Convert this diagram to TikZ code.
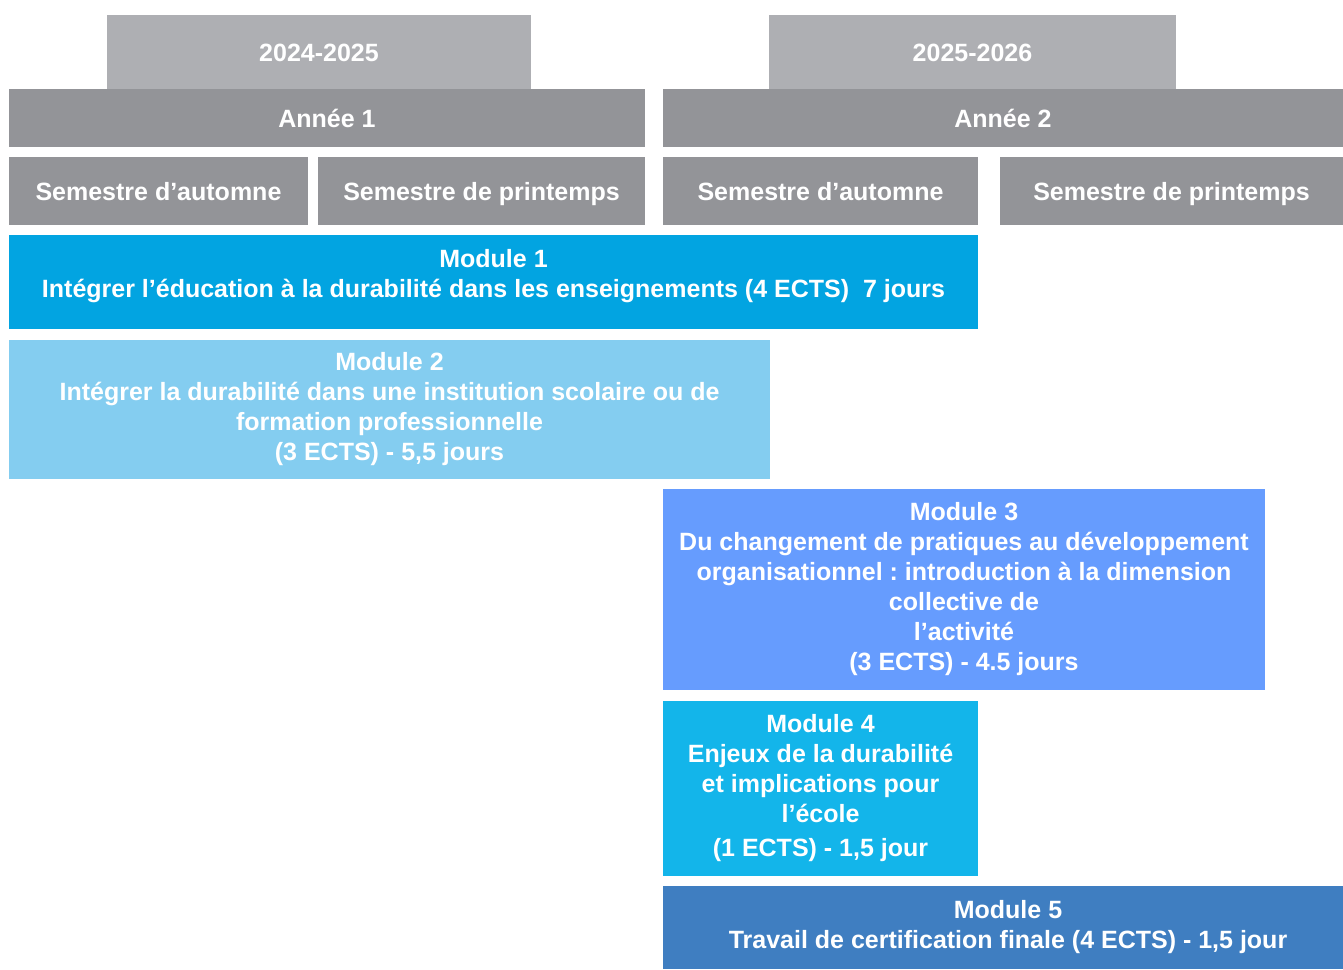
\documentclass[tikz,border=0pt]{standalone}
\usepackage{fontspec}
\setmainfont{Liberation Sans}
\frenchspacing
\definecolor{yeargray}{HTML}{AEAFB3}
\definecolor{headgray}{HTML}{939498}
\definecolor{modone}{HTML}{02A4E1}
\definecolor{modtwo}{HTML}{84CDF0}
\definecolor{modthree}{HTML}{669CFE}
\definecolor{modfour}{HTML}{13B5EA}
\definecolor{modfive}{HTML}{3F7EC1}
\begin{document}
\begin{tikzpicture}[x=1pt, y=-1pt,
		box/.style = {rectangle, inner sep=0pt, outer sep=0pt, text=white, align=center, font=\fontsize{25}{30}\selectfont\bfseries},
		line/.style = {box, text height=20pt, text depth=2pt},
		year/.style = {line, fill=yeargray, minimum height=74pt},
		head/.style = {line, fill=headgray, minimum height=58pt},
		sem/.style = {line, fill=headgray, minimum height=68pt}]
		\useasboundingbox (0,0) rectangle (1343,969);
		\node[year, minimum width=424pt] (y1) at (319,52) {2024-2025};
		\node[year, minimum width=407pt] (y2) at (972.5,52) {2025-2026};
		\node[head, minimum width=636pt] (a1) at (327,118) {Année 1};
		\node[head, minimum width=680pt] (a2) at (1003,118) {Année 2};
		\node[sem, minimum width=299pt] (s1) at (158.5,191) {Semestre d’automne};
		\node[sem, minimum width=327pt] (s2) at (481.5,191) {Semestre de printemps};
		\node[sem, minimum width=315pt] (s3) at (820.5,191) {Semestre d’automne};
		\node[sem, minimum width=343pt] (s4) at (1171.5,191) {Semestre de printemps};
		\node[box, fill=modone, minimum width=969pt, minimum height=94pt, text depth=18pt] (m1) at (493.5,282) {Module 1\\Intégrer l’éducation à la durabilité dans les enseignements (4 ECTS)\ \ 7 jours};
		\node[box, fill=modtwo, minimum width=761pt, minimum height=139pt] (m2) at (389.5,409.5) {Module 2\\Intégrer la durabilité dans une institution scolaire ou de\\formation professionnelle\\(3 ECTS) - 5,5 jours};
		\node[box, fill=modthree, minimum width=602pt, minimum height=201pt] (m3) at (964,589.5) {Module 3\\Du changement de pratiques au développement\\organisationnel : introduction à la dimension\\collective de\\l’activité\\(3 ECTS) - 4.5 jours};
		\node[box, fill=modfour, minimum width=315pt, minimum height=175pt] (m4) at (820.5,788.5) {Module 4\\Enjeux de la durabilité\\et implications pour\\l’école\\[4pt](1 ECTS) - 1,5 jour};
		\node[box, fill=modfive, minimum width=690pt, minimum height=83pt] (m5) at (1008,927.5) {Module 5\\Travail de certification finale (4 ECTS) - 1,5 jour};
	\end{tikzpicture}
\end{document}
